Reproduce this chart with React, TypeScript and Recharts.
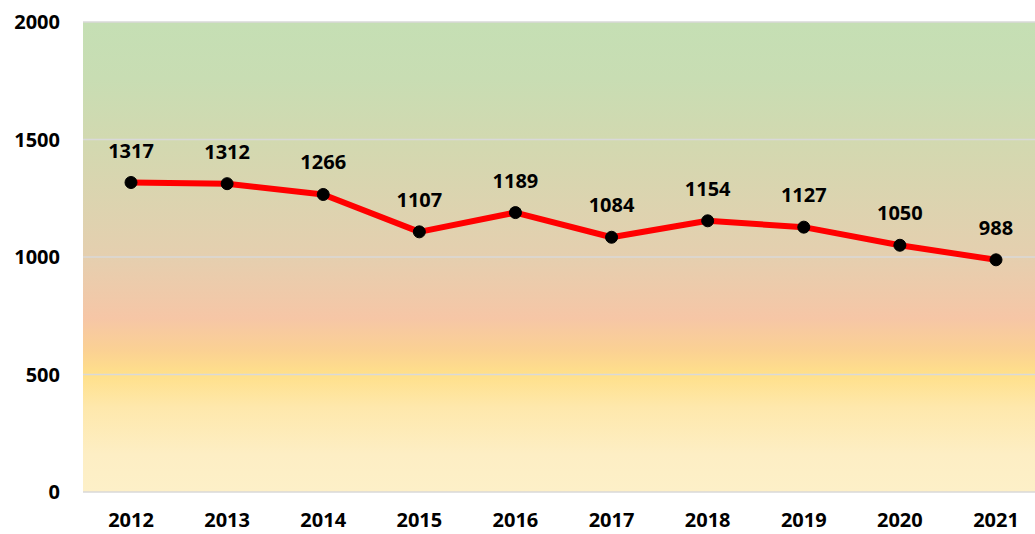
import React from 'react';
import { LineChart, Line, XAxis, YAxis, CartesianGrid, LabelList } from 'recharts';

const years = ['2012', '2013', '2014', '2015', '2016', '2017', '2018', '2019', '2020', '2021'];
const counts = [1317, 1312, 1266, 1107, 1189, 1084, 1154, 1127, 1050, 988];
const yTicks = [0, 500, 1000, 1500, 2000];

const data = years.map((y, i) => ({ year: y, value: counts[i] }));

const font = '"Open Sans", sans-serif';

export default function App() {
    return (
        <div
            style={{
                position: 'fixed',
                left: 0,
                top: 0,
                width: 1035,
                height: 534,
                overflow: 'hidden',
                background: '#fff',
            }}
        >
            <LineChart
                width={1044}
                height={534}
                data={data}
                margin={{ top: 22, right: 0, bottom: 0, left: 0 }}
            >
                <defs>
                    <linearGradient id="bg" x1="0" y1="0" x2="0" y2="1">
                        <stop offset="0%" stopColor="#c5dfb4" />
                        <stop offset="12%" stopColor="#c8ddb3" />
                        <stop offset="25%" stopColor="#d2d9b0" />
                        <stop offset="50%" stopColor="#e5cfaf" />
                        <stop offset="63%" stopColor="#f6c6a6" />
                        <stop offset="70%" stopColor="#fbd193" />
                        <stop offset="75%" stopColor="#ffe08a" />
                        <stop offset="82%" stopColor="#fee8ac" />
                        <stop offset="92%" stopColor="#fdeec4" />
                        <stop offset="100%" stopColor="#fdf0c8" />
                    </linearGradient>
                </defs>
                <CartesianGrid
                    vertical={false}
                    stroke="#d9d9d9"
                    strokeWidth={1.5}
                    fill="url(#bg)"
                    fillOpacity={1}
                />
                <XAxis
                    dataKey="year"
                    height={42}
                    padding={{ left: 48, right: 48 }}
                    axisLine={false}
                    tickLine={false}
                    tickSize={0}
                    tickMargin={21}
                    tick={{ fill: '#000', fontSize: 20, fontWeight: 700, fontFamily: font }}
                />
                <YAxis
                    domain={[0, 2000]}
                    ticks={yTicks}
                    width={83}
                    axisLine={false}
                    tickLine={false}
                    tickSize={0}
                    tickMargin={23}
                    tick={{ fill: '#000', fontSize: 20, fontWeight: 700, fontFamily: font }}
                />
                <Line
                    type="linear"
                    dataKey="value"
                    stroke="#ff0000"
                    strokeWidth={6}
                    strokeLinejoin="round"
                    dot={{ r: 6, fill: '#000', stroke: '#000', strokeWidth: 1 }}
                    activeDot={false}
                    isAnimationActive={false}
                >
                    <LabelList
                        dataKey="value"
                        position="top"
                        offset={25}
                        fill="#000"
                        fontSize={20}
                        fontWeight={700}
                        fontFamily={font}
                    />
                </Line>
            </LineChart>
        </div>
    );
}
